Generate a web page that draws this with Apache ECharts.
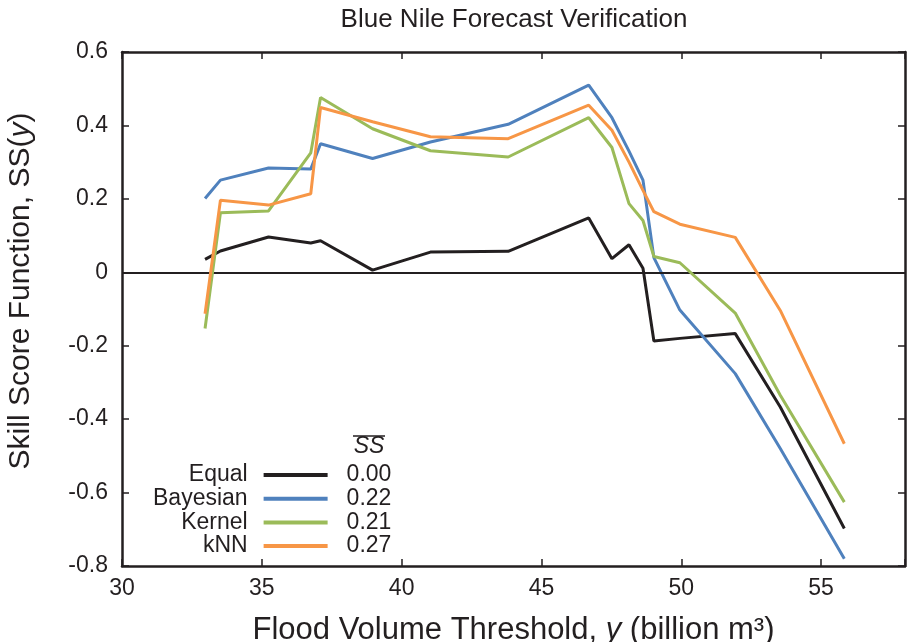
<!DOCTYPE html>
<html>
<head>
<meta charset="utf-8">
<script src="https://cdn.jsdelivr.net/npm/echarts@6/dist/echarts.min.js"></script>
<style>
html, body { margin: 0; padding: 0; background: #fff; }
#chart { width: 908px; height: 642px; }
</style>
</head>
<body>
<div id="chart"></div>
<script>
// flood volume thresholds (billion m3)
const thresholds = [32.97, 33.52, 35.24, 36.75, 37.10, 38.96, 41.03, 43.81, 46.69, 47.52, 48.13, 48.63, 49.02, 49.95, 51.93, 53.54, 55.83];

// skill score SS(y) per method
const equalSS    = [0.035, 0.058, 0.096, 0.080, 0.086, 0.006, 0.055, 0.057, 0.148, 0.037, 0.075, 0.011, -0.187, -0.180, -0.167, -0.367, -0.698];
const bayesianSS = [0.201, 0.251, 0.284, 0.281, 0.350, 0.310, 0.355, 0.403, 0.510, 0.421, 0.330, 0.251, 0.040, -0.103, -0.276, -0.480, -0.780];
const kernelSS   = [-0.153, 0.162, 0.167, 0.325, 0.476, 0.391, 0.331, 0.314, 0.421, 0.340, 0.187, 0.141, 0.043, 0.026, -0.111, -0.335, -0.626];
const knnSS      = [-0.113, 0.196, 0.183, 0.214, 0.449, 0.410, 0.369, 0.364, 0.455, 0.387, 0.300, 0.223, 0.165, 0.131, 0.095, -0.104, -0.467];

const methodNames = ['Equal', 'Bayesian', 'Kernel', 'kNN'];
const meanSS = ['0.00', '0.22', '0.21', '0.27'];
const xTickLabels = [30, 35, 40, 45, 50, 55];

const colors = ['#231f20', '#4f81bd', '#9bbb59', '#f79646'];
const ink = '#231f20';
const font = "'Liberation Sans', Arial, Helvetica, sans-serif";

const chart = echarts.init(document.getElementById('chart'), null, {renderer: 'canvas'});

const allSeries = [equalSS, bayesianSS, kernelSS, knnSS];

// zip thresholds with values -> [[x, y], ...]
const series = allSeries.map(function (vals, i) {
    const s = {
        name: methodNames[i],
        type: 'line',
        data: thresholds.map(function (x, j) { return [x, vals[j]]; }),
        showSymbol: false,
        symbol: 'none',
        lineStyle: {color: colors[i], width: 3},
        itemStyle: {color: colors[i]},
        z: 3 + i
    };
    if (i === 0) {
        s.markLine = {
            silent: true,
            symbol: 'none',
            label: {show: false},
            lineStyle: {color: ink, width: 1.8, type: 'solid'},
            data: [{yAxis: 0}]
        };
    }
    return s;
});

const axisCommon = {
    axisLine: {show: true, onZero: false, lineStyle: {color: ink, width: 2.5}},
    axisTick: {show: true, inside: true, length: 7, lineStyle: {color: ink, width: 1.5}},
    splitLine: {show: false}
};

const legendRowY = 475;
const legendRowGap = 23.7;
const valueX = 369;

const option = {
    animation: false,
    backgroundColor: '#fff',
    title: {
        text: 'Blue Nile Forecast Verification',
        left: 514,
        top: 7,
        padding: 0,
        textAlign: 'center',
        textStyle: {fontSize: 26, fontWeight: 'normal', fontFamily: font, color: ink}
    },
    grid: {left: 122, right: 3, top: 52, bottom: 76, containLabel: false, outerBoundsMode: 'none'},
    xAxis: [
        Object.assign({}, axisCommon, {
            type: 'value', position: 'bottom', min: 30, max: 58, interval: 5,
            axisLabel: {
                fontSize: 23, fontFamily: font, color: ink, margin: 11,
                formatter: function (v) { return xTickLabels.indexOf(v) >= 0 ? String(v) : ''; }
            },
            name: 'Flood Volume Threshold, {i|y} (billion m³)',
            nameLocation: 'middle',
            nameGap: 49,
            nameTextStyle: {
                fontSize: 31, fontFamily: font, color: ink,
                rich: {i: {fontSize: 31, fontFamily: font, color: ink, fontStyle: 'italic'}}
            }
        }),
        Object.assign({}, axisCommon, {
            type: 'value', position: 'top', min: 30, max: 58, interval: 5,
            axisLabel: {show: false}
        })
    ],
    yAxis: [
        Object.assign({}, axisCommon, {
            type: 'value', position: 'left', min: -0.8, max: 0.6, interval: 0.2,
            axisLabel: {fontSize: 23, fontFamily: font, color: ink, margin: 14},
            name: 'Skill Score Function, SS({i|y})',
            nameLocation: 'middle',
            nameRotate: 90,
            nameGap: 86,
            nameTextStyle: {
                fontSize: 30, fontFamily: font, color: ink,
                padding: [0, 0, 0, 36],
                rich: {i: {fontSize: 30, fontFamily: font, color: ink, fontStyle: 'italic'}}
            }
        }),
        Object.assign({}, axisCommon, {
            type: 'value', position: 'right', min: -0.8, max: 0.6, interval: 0.2,
            axisLabel: {show: false}
        })
    ],
    legend: {
        orient: 'vertical',
        left: 153,
        top: legendRowY - legendRowGap / 2,
        padding: 0,
        align: 'right',
        icon: 'rect',
        itemWidth: 64,
        itemHeight: 4,
        itemGap: 0,
        textStyle: {fontSize: 23, fontFamily: font, color: ink, lineHeight: legendRowGap, padding: [0, 11, 0, 0]},
        data: methodNames
    },
    graphic: [
        {
            type: 'text', x: valueX, y: 447,
            style: {text: 'SS', fontSize: 23, fontStyle: 'italic', fontFamily: font, fill: ink,
                align: 'center', verticalAlign: 'middle'}
        },
        {
            type: 'line',
            shape: {x1: valueX - 16, y1: 436, x2: valueX + 16, y2: 436},
            style: {stroke: ink, lineWidth: 1.5}
        }
    ].concat(meanSS.map(function (v, i) {
        return {
            type: 'text', x: valueX, y: legendRowY + i * legendRowGap,
            style: {text: v, fontSize: 23, fontFamily: font, fill: ink, align: 'center', verticalAlign: 'middle'}
        };
    })),
    series: series
};

chart.setOption(option);
</script>
</body>
</html>
